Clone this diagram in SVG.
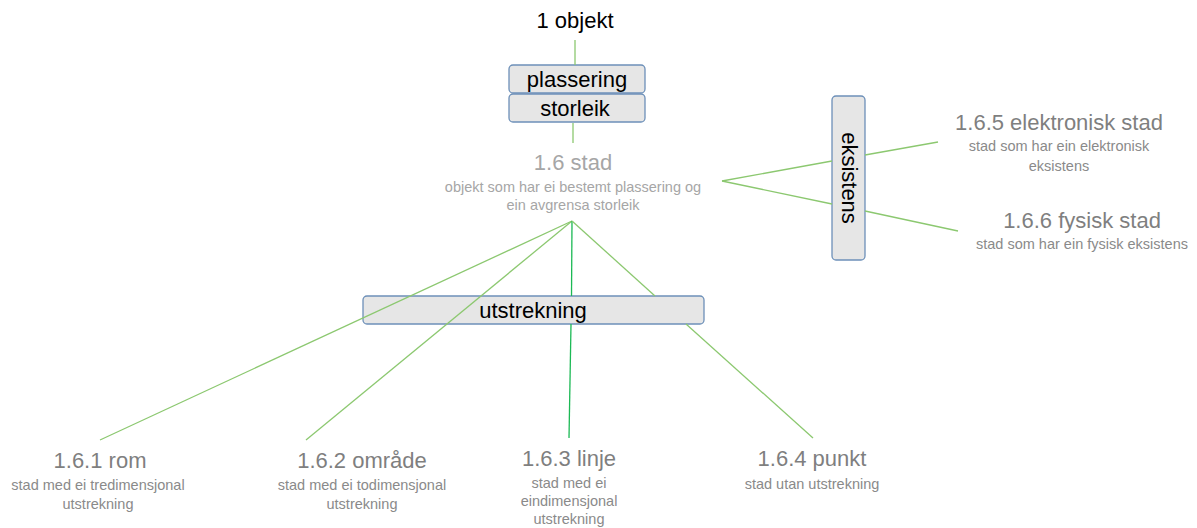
<svg xmlns="http://www.w3.org/2000/svg" width="1197" height="528" viewBox="0 0 1197 528">
<style>
text{font-family:"Liberation Sans",Arial,sans-serif;text-anchor:middle}
.box{fill:#e6e6e6;stroke:#6d90b9;stroke-width:1.3}
.lbl{font-size:22px;fill:#000}
.t1{font-size:22px;fill:#7f7f7f}
.d1{font-size:14.5px;fill:#8a8a8a}
.ts{font-size:22px;fill:#a6a6a6}
.ds{font-size:14.5px;fill:#a6a6a6}
.c{stroke:#8cc870;stroke-width:1.3;fill:none}
.cg{stroke:#1cb955;stroke-width:1.3;fill:none}
</style>
<rect width="1197" height="528" fill="#fff"/>
<g id="objekt"><text class="lbl" x="575" y="28">1 objekt</text></g>
<g id="plassering"><rect class="box" x="509" y="65" width="136" height="28" rx="4"/><text class="lbl" x="577" y="87">plassering</text></g>
<g id="storleik"><rect class="box" x="509" y="94" width="136" height="28" rx="4"/><text class="lbl" x="575" y="116">storleik</text></g>
<g id="stad"><text class="ts" x="573" y="170">1.6 stad</text><text class="ds" x="573" y="192">objekt som har ei bestemt plassering og</text><text class="ds" x="573" y="210">ein avgrensa storleik</text></g>
<g id="eksistens"><rect class="box" x="832" y="96" width="33" height="164" rx="4"/><text class="lbl" transform="translate(849,178) rotate(90)" y="7.5">eksistens</text></g>
<g id="utstrekning"><rect class="box" x="363" y="296" width="341" height="28" rx="4"/><text class="lbl" x="533" y="318">utstrekning</text></g>
<g id="elektronisk"><text class="t1" x="1059" y="130">1.6.5 elektronisk stad</text><text class="d1" x="1059" y="151">stad som har ein elektronisk</text><text class="d1" x="1059" y="171">eksistens</text></g>
<g id="fysisk"><text class="t1" x="1082" y="228">1.6.6 fysisk stad</text><text class="d1" x="1082" y="249">stad som har ein fysisk eksistens</text></g>
<g id="rom"><text class="t1" x="100" y="468">1.6.1 rom</text><text class="d1" x="98" y="490">stad med ei tredimensjonal</text><text class="d1" x="98" y="509">utstrekning</text></g>
<g id="omraade"><text class="t1" x="362" y="468">1.6.2 område</text><text class="d1" x="362" y="490">stad med ei todimensjonal</text><text class="d1" x="362" y="509">utstrekning</text></g>
<g id="linje"><text class="t1" x="569" y="466">1.6.3 linje</text><text class="d1" x="569" y="488">stad med ei</text><text class="d1" x="569" y="506">eindimensjonal</text><text class="d1" x="569" y="524">utstrekning</text></g>
<g id="punkt"><text class="t1" x="812" y="466">1.6.4 punkt</text><text class="d1" x="812" y="489">stad utan utstrekning</text></g>
<g id="connectors">
<line class="c" x1="575" y1="40" x2="575" y2="65"/>
<line class="c" x1="573" y1="123" x2="573" y2="143"/>
<line class="c" x1="722" y1="181" x2="832" y2="161"/>
<line class="c" x1="865" y1="155" x2="938" y2="142"/>
<line class="c" x1="722" y1="181" x2="832" y2="204"/>
<line class="c" x1="865" y1="211" x2="958" y2="231"/>
<line class="c" x1="572" y1="221" x2="100" y2="440"/>
<line class="c" x1="572" y1="221" x2="306" y2="440"/>
<line class="cg" x1="572" y1="221" x2="571.5" y2="296"/>
<line class="cg" x1="571" y1="324" x2="569" y2="438"/>
<line class="c" x1="572" y1="221" x2="655" y2="296"/>
<line class="c" x1="686" y1="324" x2="813" y2="438"/>
</g>
</svg>
